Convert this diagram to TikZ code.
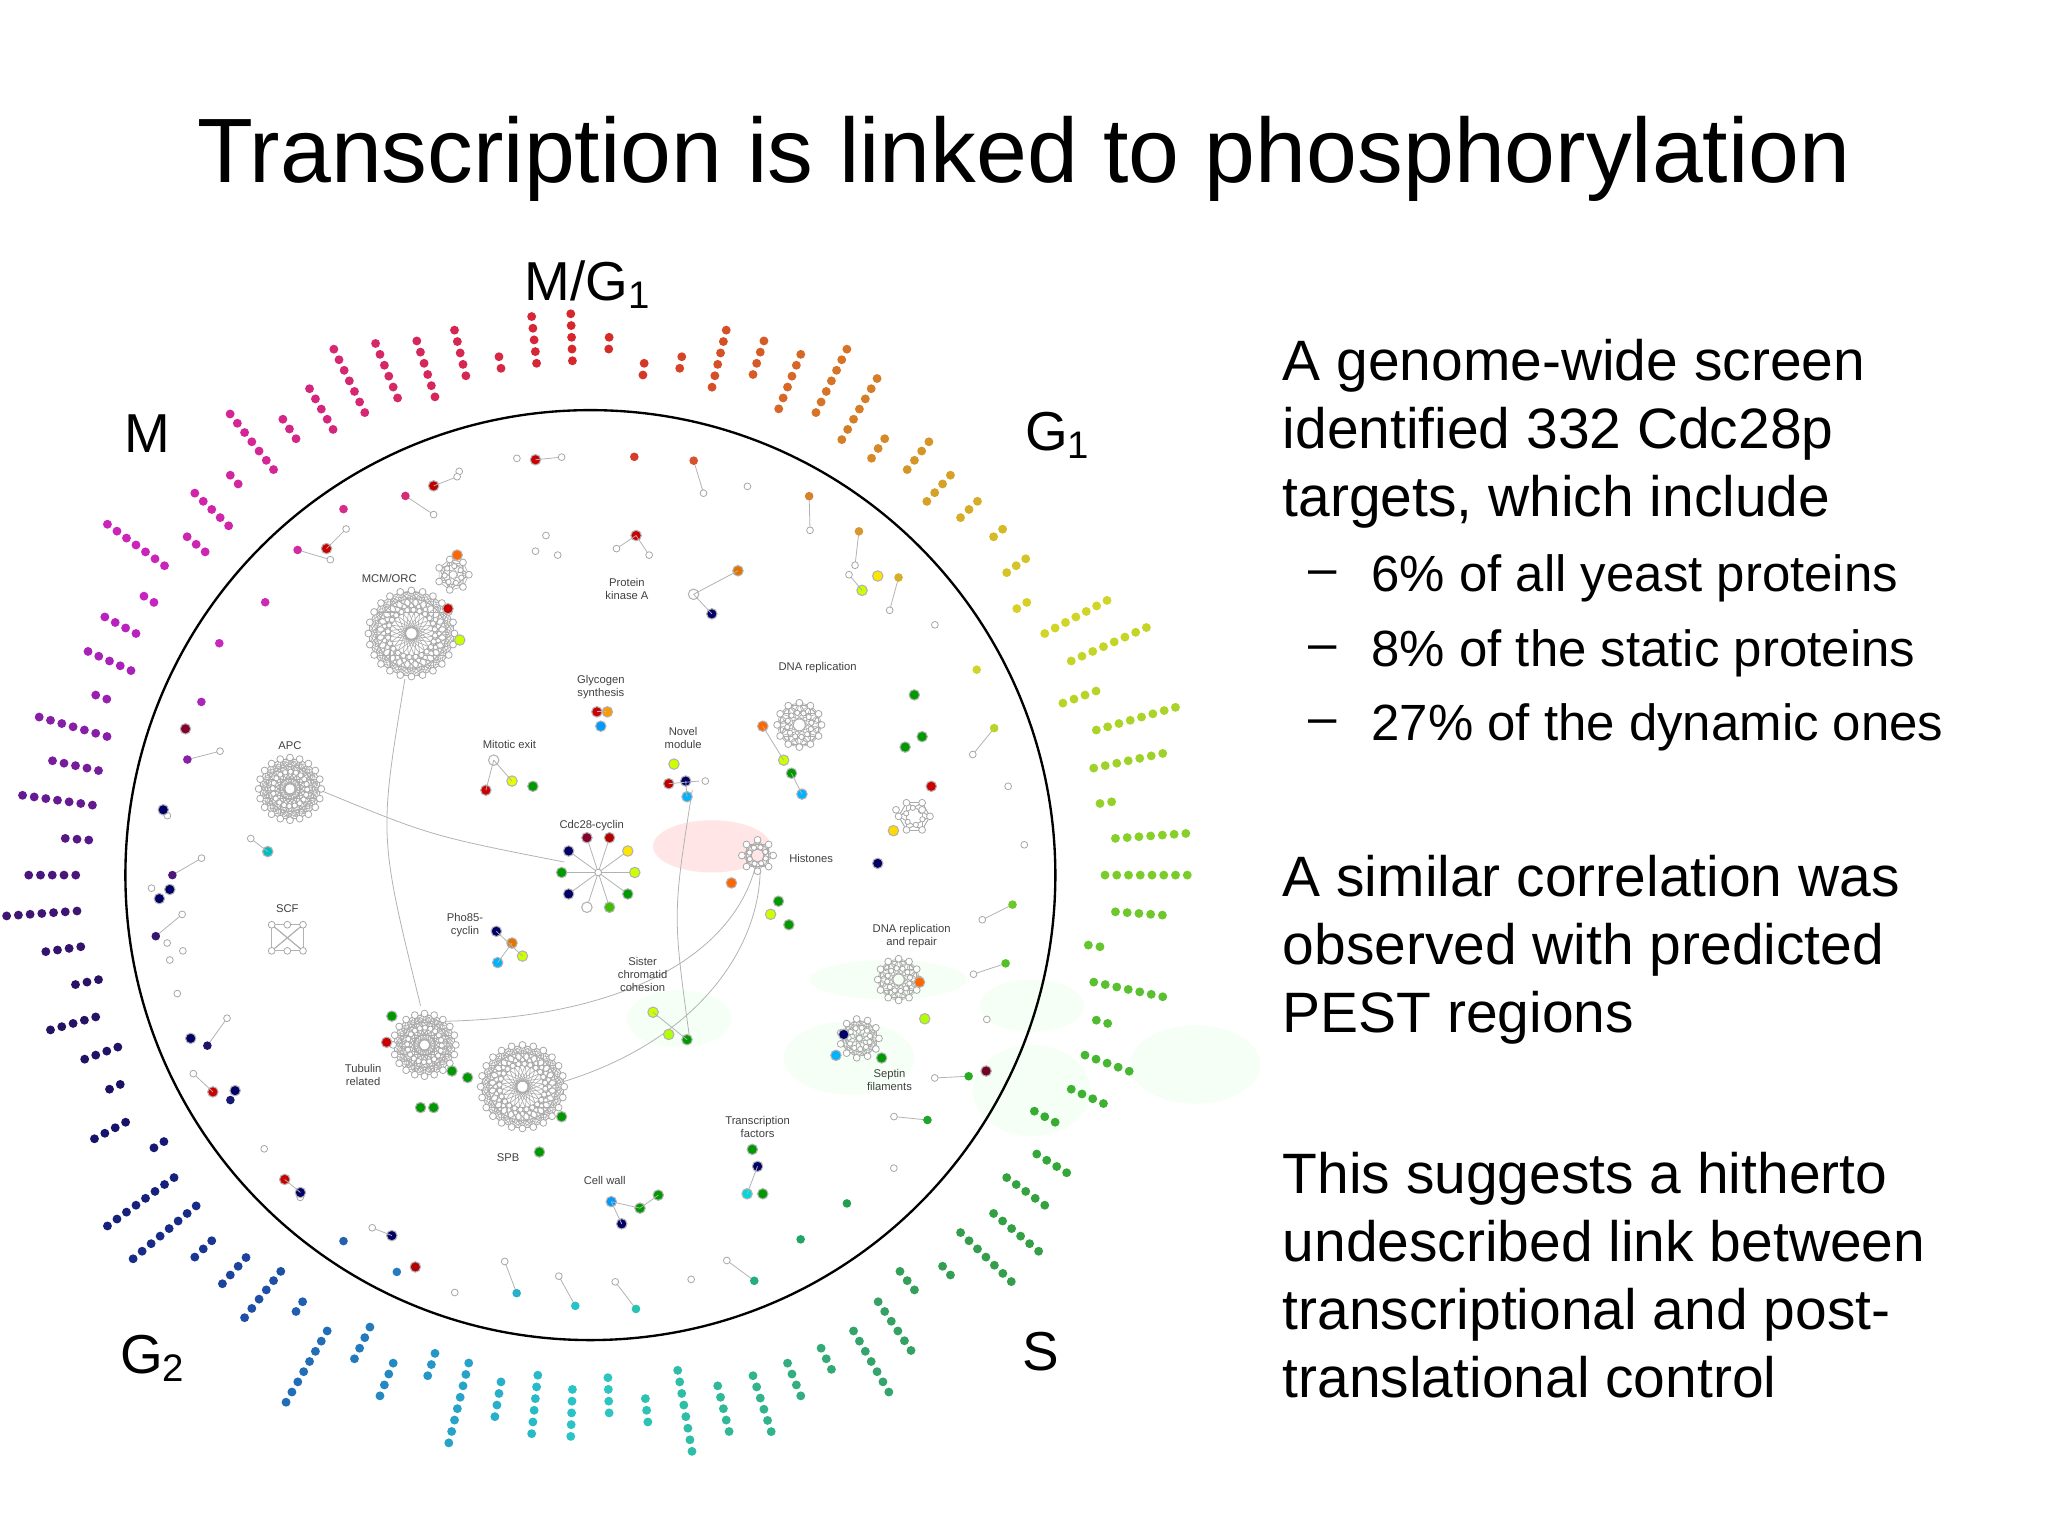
\PassOptionsToPackage{rgb}{xcolor}
\documentclass[tikz,border=0pt]{standalone}
\usepackage{fontspec}
\setmainfont{Liberation Sans}
\begin{document}
\begin{tikzpicture}[x=0.5pt,y=-0.5pt,
  wdot/.style={circle,draw=gray!70,fill=white,line width=0.3pt,inner sep=0pt,minimum size=2.6pt},
  cdot/.style={circle,fill=#1,inner sep=0pt,minimum size=3pt},
  edge/.style={gray!60,line width=0.3pt},
  lbl/.style={font=\fontsize{4.3}{5}\selectfont,text=black!75,align=center},
  body/.style={font=\fontsize{21.8}{26}\selectfont,anchor=west,align=left},
  bul/.style={font=\fontsize{19.5}{26}\selectfont,anchor=west,align=left}]
\useasboundingbox (0,0) rectangle (1568,1176);
\fill[white] (0,0) rectangle (1568,1176);
% faint blobs
\fill[red!20,opacity=0.5] (545,648) ellipse ({45} and {20});
\foreach \x/\y/\rx/\ry in {520/780/40/22,650/810/50/28,790/835/45/35,915/815/50/30,790/770/40/20,680/750/60/15}
  \fill[green!12,opacity=0.3] (\x,\y) ellipse ({\rx} and {\ry});
% title
\node[font=\fontsize{35}{40}\selectfont] (title) at (784,122) {Transcription is linked to phosphorylation};
% circle
\draw[line width=0.9pt] (452,670) circle (356);
% phase labels
\node[font=\fontsize{21}{24}\selectfont] (mg1) at (450,218) {M/G\textsubscript{1}};
\node[font=\fontsize{21}{24}\selectfont] (m) at (113,332) {M};
\node[font=\fontsize{21}{24}\selectfont] (g1) at (810,333) {G\textsubscript{1}};
\node[font=\fontsize{21}{24}\selectfont] (g2) at (117,1040) {G\textsubscript{2}};
\node[font=\fontsize{21}{24}\selectfont] (s) at (797,1035) {S};
% outer spokes
\pgfmathsetseed{42}
\begin{scope}[shift={(452,670)}]
\foreach \a in {-88,-84,...,268}{
  \pgfmathsetmacro\h{mod(\a+90+720,360)/360}
  \pgfmathsetmacro\b{0.84-0.45*exp(-((\h-0.70)/0.1)^2)-0.22*exp(-((\h-0.38)/0.1)^2)}
  \pgfmathsetmacro\s{0.82-0.15*exp(-((\h-0.38)/0.1)^2)}
  \definecolor{dc}{hsb}{\h,\s,\b}
  \pgfmathrandominteger{\n}{2}{8}
  \pgfmathrandominteger{\o}{0}{2}
  \pgfmathtruncatemacro\top{(\h<0.05 || \h>0.95) ? 1 : 0}
  \ifnum\top=1 \pgfmathtruncatemacro\n{min(\n,6-\o)}\fi
  \foreach \k in {1,...,\n}{\fill[dc] (\a:{376+9*(\k+\o)}) circle (3.4);}
}
% inner ring
\foreach \a in {-84,-76,...,262}{
  \pgfmathsetmacro\h{mod(\a+90+720,360)/360}
  \pgfmathsetmacro\b{0.84-0.45*exp(-((\h-0.70)/0.1)^2)-0.22*exp(-((\h-0.38)/0.1)^2)}
  \definecolor{dc}{hsb}{\h,0.8,\b}
  \pgfmathrandominteger{\t}{0}{3}
  \pgfmathrandominteger{\rr}{318}{338}
  \ifnum\t>1
    \draw[edge] (\a:\rr) -- (\a+2.5:\rr-22);
    \node[wdot] at (\a+2.5:\rr-22) {};
  \fi
  \ifnum\t=0 \node[wdot] at (\a:\rr) {}; \else \node[cdot=dc,minimum size=3.3pt] at (\a:\rr) {}; \fi
}
\end{scope}
% long curves
\draw[edge] (310,520) .. controls (290,640) .. (322,770);
\draw[edge] (245,605) .. controls (330,640) .. (432,660);
\draw[edge] (335,782) .. controls (480,780) and (560,730) .. (578,665);
\draw[edge] (425,830) .. controls (530,800) and (580,730) .. (582,668);
\draw[edge] (530,605) .. controls (515,700) .. (528,795);
% hairballs
\newcommand\hball[4]{\begin{scope}[shift={(#1,#2)}]
  \foreach \i in {1,...,#4}{\foreach \k in {2,5,8,11}{\draw[gray!65,line width=0.25pt] ({360/#4*\i}:#3) -- ({360/#4*(\i+\k)}:#3);}
    \draw[gray!65,line width=0.25pt] ({360/#4*\i}:#3) -- ({360/#4*\i+40}:{0.55*#3});}
  \foreach \i in {1,...,#4}{\node[wdot] at ({360/#4*\i}:#3) {}; \node[wdot,minimum size=2pt] at ({360/#4*\i+20}:{0.55*#3}) {};}
\end{scope}}
\hball{315}{485}{33}{24}
\hball{222}{604}{24}{20}
\hball{325}{800}{24}{20}
\hball{400}{832}{32}{24}
\hball{612}{555}{17}{12}
\hball{688}{750}{16}{12}
\hball{658}{795}{15}{11}
\hball{347}{440}{12}{7}
\hball{580}{655}{12}{8}
\hball{700}{625}{12}{6}
% SCF square
\foreach \p in {(208,708),(232,708),(208,728),(232,728),(220,718)}{\foreach \q in {(208,708),(232,708),(208,728),(232,728)}{\draw[edge] \p -- \q;}}
\foreach \p in {(208,708),(232,708),(208,728),(232,728),(220,708),(220,728)} \node[wdot] at \p {};
% Cdc28-cyclin star
\foreach \a/\c in {0/yellow!80!green,36/green!60!black,72/green!50!olive,108/white,144/blue!40!black,180/green!60!black,216/blue!40!black,252/purple!70!black,288/red!70!black,324/yellow!80!orange}{
  \draw[edge] (458,668) -- ([shift={(\a:28)}]458,668);
  \node[cdot=\c,draw=gray!60,minimum size=4pt] at ([shift={(\a:28)}]458,668) {};}
\node[wdot] at (458,668) {};
% small colored groups
\foreach \x/\y/\c in {
 410/352/red!80!black,332/372/red!75!black,250/420/red!80!black,
 487/410/red!80!black,565/437/orange!90!black,545/470/blue!40!black,531/455/white,
 457/545/red!80!black,465/545/orange!80!yellow,460/556/cyan!60!blue,
 372/605/red!80!black,392/598/yellow!90!green,408/602/green!60!black,378/582/white,
 512/600/red!75!black,525/598/blue!40!black,526/610/cyan!70!blue,516/585/yellow!80!green,
 584/556/orange!80!red,600/582/yellow!80!green,614/608/cyan!70!blue,606/592/green!60!black,
 560/676/orange!80!red,596/690/green!60!black,604/708/green!60!black,590/700/yellow!80!green,
 380/713/blue!40!black,392/722/orange!90!black,400/732/yellow!80!green,381/737/cyan!70!blue,
 205/652/cyan!50!teal,713/602/red!80!black,684/636/yellow!70!orange,672/661/blue!40!black,
 706/564/green!60!black,693/572/green!60!black,
 660/452/yellow!80!green,672/441/yellow!80!orange,
 296/798/red!80!black,300/778/green!60!black,346/820/green!60!black,358/825/green!60!black,
 322/848/green!60!black,332/848/green!60!black,413/882/green!60!black,
 430/855/green!60!black,708/780/yellow!70!green,704/752/orange!80!red,
 640/808/cyan!70!blue,646/792/blue!40!black,675/810/green!60!black,
 500/775/yellow!80!green,512/792/yellow!70!green,526/796/green!60!black,
 580/893/blue!40!black,572/914/cyan!70!teal,584/914/green!60!black,576/880/green!60!black,
 468/920/cyan!60!blue,476/937/blue!40!black,490/925/green!60!black,504/915/green!60!black,
 218/903/red!80!black,230/913/blue!40!black,163/836/red!80!black,180/835/blue!40!black,
 146/795/blue!40!black,122/688/blue!40!black,130/681/blue!40!black,125/620/blue!40!black,
 142/558/purple!70!black,300/946/blue!40!black,318/970/red!70!black,755/820/purple!60!black,
 350/425/orange!80!red,343/466/red!80!black,352/490/yellow!80!green,700/532/green!60!black}
 {\node[cdot=\c,draw=gray!60,minimum size=4pt] at (\x,\y) {};}
\foreach \a/\b in {{(410,352)}/{(430,350)},{(332,372)}/{(350,365)},{(250,420)}/{(265,405)},
 {(487,410)}/{(472,420)},{(487,410)}/{(497,425)},{(565,437)}/{(531,455)},{(545,470)}/{(531,455)},
 {(457,545)}/{(465,545)},{(372,605)}/{(378,582)},{(392,598)}/{(378,582)},
 {(512,600)}/{(535,598)},{(525,598)}/{(526,610)},{(584,556)}/{(600,582)},{(606,592)}/{(614,608)},
 {(380,713)}/{(400,732)},{(392,722)}/{(381,737)},{(205,652)}/{(192,642)},{(500,775)}/{(526,796)},
 {(572,914)}/{(580,893)},{(468,920)}/{(490,925)},{(490,925)}/{(504,915)},{(476,937)}/{(468,920)},
 {(218,903)}/{(230,913)},{(300,946)}/{(285,940)},{(660,452)}/{(650,440)},{(163,836)}/{(148,822)}}
 {\draw[edge] \a -- \b;}
\foreach \p in {(430,350),(350,365),(265,405),(472,420),(497,425),(418,410),(427,425),(410,422),
 (192,642),(650,440),(285,940),(148,822),(540,598),(130,735),(128,722),(140,728),(116,680),(706,620),(686,620)}
 \node[wdot] at \p {};
% labels
\node[lbl] (l1) at (298,443) {MCM/ORC};
\node[lbl] (l2) at (480,451) {Protein\\kinase A};
\node[lbl] (l3) at (460,526) {Glycogen\\synthesis};
\node[lbl] (l4) at (626,511) {DNA replication};
\node[lbl] (l5) at (222,571) {APC};
\node[lbl] (l6) at (390,570) {Mitotic exit};
\node[lbl] (l7) at (523,565) {Novel\\module};
\node[lbl] (l8) at (453,632) {Cdc28-cyclin};
\node[lbl] (l9) at (621,657) {Histones};
\node[lbl] (l10) at (220,696) {SCF};
\node[lbl] (l11) at (356,708) {Pho85-\\cyclin};
\node[lbl] (l12) at (698,717) {DNA replication\\and repair};
\node[lbl] (l13) at (492,746) {Sister\\chromatid\\cohesion};
\node[lbl] (l14) at (278,823) {Tubulin\\related};
\node[lbl] (l15) at (681,827) {Septin\\filaments};
\node[lbl] (l16) at (580,863) {Transcription\\factors};
\node[lbl] (l17) at (389,886) {SPB};
\node[lbl] (l18) at (463,904) {Cell wall};
% right text
\node[body] (p1) at (975,332) {A genome-wide screen\\identified 332 Cdc28p\\targets, which include};
\node[bul] (d1) at (995,443) {--};
\node[bul] (d2) at (995,500) {--};
\node[bul] (d3) at (995,557) {--};
\node[bul] (b1) at (1043,443) {6\% of all yeast proteins};
\node[bul] (b2) at (1043,500) {8\% of the static proteins};
\node[bul] (b3) at (1043,557) {27\% of the dynamic ones};
\node[body] (p2) at (975,727) {A similar correlation was\\observed with predicted\\PEST regions};
\node[body] (p3) at (975,976) {This suggests a hitherto\\undescribed link between\\transcriptional and post-\\translational control};
\end{tikzpicture}
\end{document}
